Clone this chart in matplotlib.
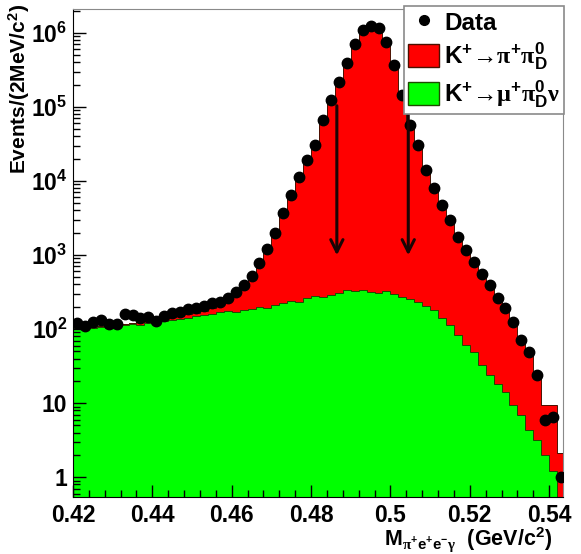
import numpy as np
import matplotlib
matplotlib.use('Agg')
import matplotlib.pyplot as plt
from matplotlib.patches import Patch
from matplotlib.lines import Line2D

plt.rcParams['font.family'] = ['Liberation Sans', 'DejaVu Sans']
plt.rcParams['font.weight'] = 'bold'
plt.rcParams['mathtext.fontset'] = 'custom'
plt.rcParams['mathtext.rm'] = 'Liberation Serif'
plt.rcParams['mathtext.bf'] = 'Liberation Sans:bold'
plt.rcParams['mathtext.it'] = 'Liberation Sans:bold'
plt.rcParams['mathtext.default'] = 'bf'

# binning: 2 MeV bins starting at 0.42 GeV
BIN_LO = 0.42
BIN_W = 0.002
N_BINS = 62

data_counts = [121, 110, 124, 132, 117, 117, 160, 155, 141, 145,
               128, 150, 165, 170, 186, 192, 205, 225, 232, 262,
               316, 393, 520, 780, 1205, 1980, 3700, 6470, 11300, 19200,
               30600, 66700, 124000, 218000, 393000, 710000, 1100000, 1240000, 1170000, 755000,
               370000, 145000, 57100, 30600, 14100, 8040, 4740, 2970, 1750, 1170,
               804, 554, 393, 262, 192, 124, 71, 49, 24, 5.9,
               6.5, 1.0]

# K+ -> pi+ pi0_D plus K+ -> mu+ pi0_D nu (stacked total)
mc_total = [105, 103, 107, 109, 111, 114, 118, 121, 125, 129,
            133, 138, 144, 150, 158, 166, 178, 192, 210, 238,
            285, 360, 480, 720, 1120, 1850, 3450, 6100, 10800, 18500,
            30000, 64000, 120000, 212000, 385000, 700000, 1090000, 1230000, 1160000, 750000,
            365000, 143000, 56000, 30000, 13800, 7900, 4650, 2900, 1700, 1140,
            780, 540, 380, 255, 185, 120, 70, 48, 26, 9.4,
            9.4, 2.1]

# K+ -> mu+ pi0_D nu
mc_mununu = [103, 100, 104, 106, 103, 110, 113, 117, 113, 121,
             124, 128, 132, 137, 141, 150, 155, 160, 170, 175,
             172, 181, 186, 198, 192, 211, 225, 239, 232, 262,
             279, 271, 288, 306, 337, 326, 337, 316, 306, 326,
             297, 271, 254, 232, 205, 181, 141, 113, 83, 61,
             49, 33, 24, 18, 14, 9.4, 6.9, 4.3, 3.2, 2.0,
             1.2, 0]

arrow_x = [0.4865, 0.5045]
arrow_top = [1.13e5, 1.24e5]
arrow_tip = 910

x_ticks = [0.42, 0.44, 0.46, 0.48, 0.50, 0.52, 0.54]
x_labels = ['0.42', '0.44', '0.46', '0.48', '0.5', '0.52', '0.54']
y_ticks = [1, 10, 1e2, 1e3, 1e4, 1e5, 1e6]
y_labels = ['1', '10', r'$10^{2}$', r'$10^{3}$', r'$10^{4}$', r'$10^{5}$', r'$10^{6}$']

edges = BIN_LO + BIN_W * np.arange(N_BINS + 1)
centers = edges[:-1] + BIN_W / 2
floor = 0.05

fig = plt.figure(figsize=(5.81, 5.54), dpi=100)
ax = fig.add_axes([73 / 581, 1 - 497 / 554, (563 - 73) / 581, (497 - 9) / 554])

tot = np.clip(np.array(mc_total, float), floor, None)
mu = np.clip(np.array(mc_mununu, float), floor, None)
ax.stairs(tot, edges, fill=True, color='#ff0000', baseline=floor)
ax.stairs(tot, edges, color='#4a1000', lw=0.7, baseline=floor)
ax.stairs(mu, edges, fill=True, color='#00ff00', baseline=floor)
ax.stairs(mu, edges, color='#1f4a00', lw=0.7, baseline=floor)

ax.plot(centers, data_counts, 'o', color='black', ms=7.5, zorder=5)

for xa, ya in zip(arrow_x, arrow_top):
    ax.annotate('', xy=(xa, arrow_tip), xytext=(xa, ya),
                arrowprops=dict(arrowstyle='->', lw=2.2, color='#1a0505',
                                mutation_scale=22), zorder=6)

ax.set_yscale('log')
ax.set_xlim(0.42, 0.5435)
ax.set_ylim(0.54, 2.1e6)

ax.set_xticks(x_ticks)
ax.set_xticklabels(x_labels)
ax.set_xticks(np.arange(0.42, 0.5435, 0.004), minor=True)
ax.set_yticks(y_ticks)
ax.set_yticklabels(y_labels)
ax.tick_params(which='both', direction='in', top=False, right=False, labelsize=16.5)
ax.tick_params(which='major', length=9, width=1)
ax.tick_params(which='minor', length=5, width=1)
ax.tick_params(axis='x', pad=5)
ax.tick_params(axis='y', pad=4)
for s in ['top', 'right']:
    ax.spines[s].set_color('#8a8a8a')

fig.text(19 / 581, 1 - 4 / 554, r'Events/(2MeV/c$^{2}$)', rotation=90,
         ha='center', va='top', fontsize=15, fontweight='bold')
fig.text(552 / 581, 1 - 540 / 554,
         r'M$_{\mathrm{\pi}^{+}e^{+}e^{-}\mathrm{\gamma}}$  (GeV/c$^{2}$)',
         ha='right', va='center', fontsize=15.5, fontweight='bold')

handles = [Line2D([], [], marker='o', ls='', color='black', ms=7),
           Patch(facecolor='#ff0000', edgecolor='#4a1000'),
           Patch(facecolor='#00ff00', edgecolor='#1f4a00')]
labels = ['Data',
          r'K$^{+}$→$\mathrm{\pi}^{+}\mathrm{\pi}^{0}_{D}$',
          r'K$^{+}$→$\mathrm{\mu}^{+}\mathrm{\pi}^{0}_{D}\mathrm{\nu}$']
leg = fig.legend(handles, labels, loc='upper right',
                 bbox_to_anchor=(564 / 581, 1 - 6 / 554),
                 fontsize=17.5, frameon=True, fancybox=False,
                 edgecolor='#8a8a8a', framealpha=1, borderpad=0.15,
                 handlelength=1.3, handleheight=1.1, handletextpad=0.2,
                 labelspacing=0.25, borderaxespad=0)
leg.get_frame().set_linewidth(1.2)
for t in leg.get_texts():
    t.set_fontweight('bold')

fig.savefig('out.png', dpi=100)
